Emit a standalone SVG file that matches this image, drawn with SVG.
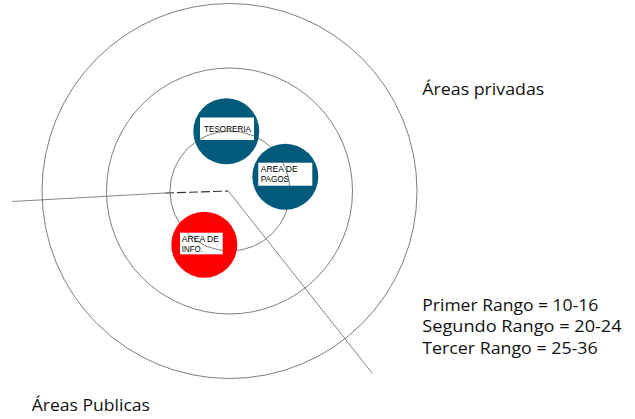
<svg xmlns="http://www.w3.org/2000/svg" width="635" height="419" viewBox="0 0 635 419">
<style>
.ring{fill:none;stroke:#6f6f6f;stroke-width:0.9}
.blue{fill:#015a7a}
.red{fill:#ff0000}
.box{fill:#ffffff}
.lbl{font-family:"Liberation Sans",Arial,sans-serif;font-size:8.8px;fill:#000}
.big{font-family:"Open Sans","Noto Sans",sans-serif;font-size:16px;fill:#111}
.line{fill:none;stroke:#777;stroke-width:0.9}
.dash{fill:none;stroke:#333;stroke-width:1.1;stroke-dasharray:9,3}
</style>
<defs>
<clipPath id="boxclip">
<rect x="200" y="117.5" width="54" height="22.5"/>
<rect x="258.3" y="162.7" width="54" height="23"/>
<rect x="180" y="232.7" width="42.7" height="21.6"/>
</clipPath>
</defs>
<g id="rings">
<circle class="ring" cx="229.5" cy="191" r="187.5"/>
<circle class="ring" cx="229.5" cy="191" r="123"/>
<circle class="ring" cx="230" cy="191" r="60"/>
</g>
<g id="connectors">
<path class="line" d="M12,201.5 L165,193"/>
<path class="dash" d="M165,193 L228.3,191"/>
<path class="line" d="M228.3,191 L372.3,373.3"/>
</g>
<g id="tesoreria">
<circle class="blue" cx="226.3" cy="131.3" r="33"/>
<rect class="box" x="200" y="117.5" width="54" height="22.5"/>
</g>
<g id="pagos">
<circle class="blue" cx="285.3" cy="176.7" r="33"/>
<rect class="box" x="258.3" y="162.7" width="54" height="23"/>
</g>
<g id="info">
<circle class="red" cx="204.3" cy="244.7" r="33"/>
<rect class="box" x="180" y="232.7" width="42.7" height="21.6"/>
</g>
<g id="ring-over-labels" clip-path="url(#boxclip)">
<circle class="ring" cx="230" cy="191" r="60"/>
</g>
<g id="labels">
<text class="lbl" x="204" y="131.7" textLength="47" lengthAdjust="spacingAndGlyphs">TESORERIA</text>
<text class="lbl" x="260.7" y="171.7" textLength="37" lengthAdjust="spacingAndGlyphs">AREA DE</text>
<text class="lbl" x="260.7" y="182" textLength="28.3" lengthAdjust="spacingAndGlyphs">PAGOS</text>
<text class="lbl" x="181.7" y="241.5" textLength="37.3" lengthAdjust="spacingAndGlyphs">AREA DE</text>
<text class="lbl" x="181.7" y="251.7" textLength="21.3" lengthAdjust="spacingAndGlyphs">INFO.</text>
</g>
<g id="texts">
<text class="big" x="422.3" y="95" textLength="122" lengthAdjust="spacingAndGlyphs">Áreas privadas</text>
<text class="big" x="422.3" y="310.7" textLength="176" lengthAdjust="spacingAndGlyphs">Primer Rango = 10-16</text>
<text class="big" x="422.3" y="332.3" textLength="199.3" lengthAdjust="spacingAndGlyphs">Segundo Rango = 20-24</text>
<text class="big" x="422.3" y="353.5" textLength="175.3" lengthAdjust="spacingAndGlyphs">Tercer Rango = 25-36</text>
<text class="big" x="31.7" y="410.7" textLength="118.3" lengthAdjust="spacingAndGlyphs">Áreas Publicas</text>
</g>
</svg>
